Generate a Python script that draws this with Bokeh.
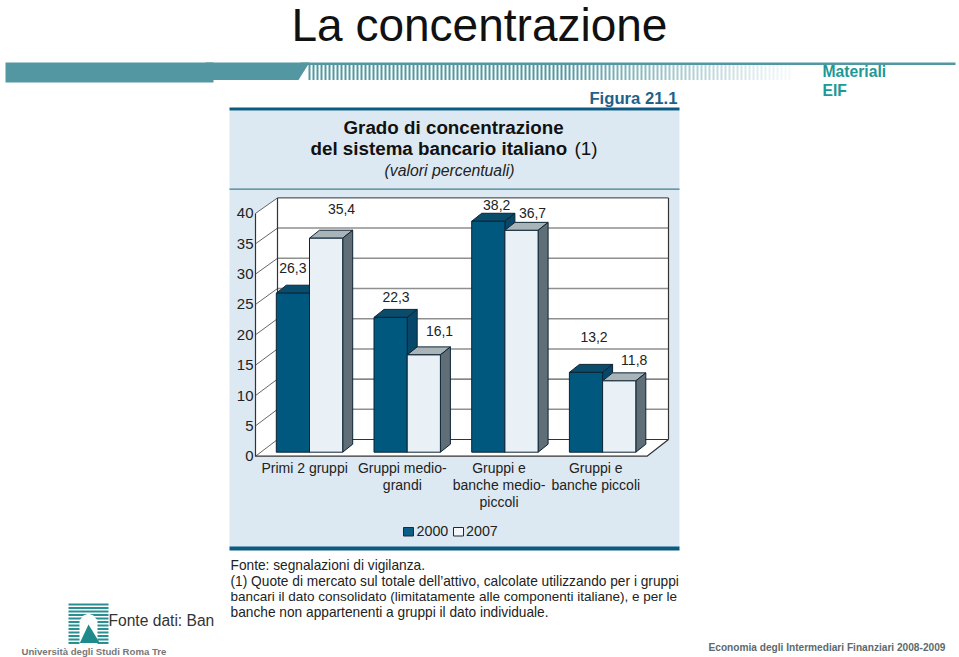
import numpy as np
from bokeh.plotting import figure
from bokeh.models import Range1d, LinearAxis, FixedTicker
from bokeh.core.properties import value
from bokeh.embed import file_html
from bokeh.resources import INLINE

# ---- data ----
categories = ["Primi 2 gruppi", "Gruppi medio-\ngrandi", "Gruppi e\nbanche medio-\npiccoli", "Gruppi e\nbanche piccoli"]
series_names = ["2000", "2007"]
values_2000 = [26.3, 22.3, 38.2, 13.2]
values_2007 = [35.4, 16.1, 36.7, 11.8]
y_ticks = [0, 5, 10, 15, 20, 25, 30, 35, 40]
title = "La concentrazione"
figure_label = "Figura 21.1"
side_label = ["Materiali", "EIF"]
chart_title = ["Grado di concentrazione", "del sistema bancario italiano"]
chart_subtitle = "(valori percentuali)"
notes = ["Fonte: segnalazioni di vigilanza.",
         "(1) Quote di mercato sul totale dell\u2019attivo, calcolate utilizzando per i gruppi",
         "bancari il dato consolidato (limitatamente alle componenti italiane), e per le",
         "banche non appartenenti a gruppi il dato individuale."]
# label offsets (pixels) from each bar's top-centre
off_2000 = [(0, -19.7), (5.4, -15), (8.4, -10.7), (8, -30)]
off_2007 = [(15.4, -23.7), (15.7, -18.4), (11, -11.8), (15, -15.4)]

FONT = "Liberation Sans"
W, H = 959, 657
TEAL = "#5297a1"
BLUE = "#0b5a82"
PANEL = "#dde9f2"
K = 0.38  # baseline correction of the text glyph, in em

GROUP_PX, ZERO_PX, SEP_PX, UNIT_PX = 97.7, 451.7, 309.0, 6.045
p = figure(width=W, height=H, output_backend="svg", toolbar_location=None,
           x_range=Range1d(0, W), y_range=Range1d(H, 0),
           min_border=0, min_border_left=0, min_border_right=0, min_border_top=0, min_border_bottom=0,
           margin=(0, 0, 0, 0), outline_line_color=None, background_fill_color="white",
           x_axis_type=None, y_axis_type=None)
p.xgrid.visible = False
p.ygrid.visible = False
p.extra_x_ranges["cat"] = Range1d(-SEP_PX / GROUP_PX, (W - SEP_PX) / GROUP_PX)
p.extra_y_ranges["val"] = Range1d((ZERO_PX - H) / UNIT_PX, ZERO_PX / UNIT_PX)
p.extra_y_ranges["front"] = Range1d((455.7 - H) / 6.07, 455.7 / 6.07)
p.extra_y_ranges["back"] = Range1d((439.0 - H) / 6.04, 439.0 / 6.04)


def txt(x, y, s, size, color="#222222", style="normal", align="left"):
    p.text(x=[x], y=[y - K * size], text=[s], text_font=value(FONT), text_font_size=f"{size}px",
           text_color=color, text_font_style=style, text_align=align, text_baseline="alphabetic")


# ---- header ----
txt(291, 42, title, 46, "#111111")
p.quad(left=[5], right=[213], top=[62], bottom=[82], fill_color=TEAL, line_color=None)
p.patch(x=[205, 309, 298, 205], y=[62, 62, 79.5, 79.5], fill_color=TEAL, line_color=None)
p.quad(left=[300], right=[955], top=[62], bottom=[64.5], fill_color=TEAL, line_color=None)
sx = np.arange(309, 792, 4.0)
sa = np.clip((800 - sx) / 240, 0.06, 1.0)
p.vbar(x=sx, bottom=64, top=79.5, width=2.0, fill_color=TEAL, fill_alpha=sa, line_color=None)
txt(822, 77, side_label[0], 15.7, "#1d9a95", "bold")
txt(822, 96, side_label[1], 15.7, "#1d9a95", "bold")

# ---- panel ----
p.quad(left=[229], right=[679], top=[110], bottom=[547], fill_color=PANEL, line_color=None)
p.quad(left=[229], right=[679], top=[107], bottom=[110], fill_color=BLUE, line_color=None)
p.quad(left=[229], right=[679], top=[546], bottom=[550], fill_color=BLUE, line_color=None)
p.quad(left=[229], right=[679], top=[188], bottom=[189.3], fill_color="#3f7f8e", line_color=None)
txt(677, 104, figure_label, 16.7, "#1f6288", "bold", "right")
txt(343, 134, chart_title[0], 18.8, "#111111", "bold")
txt(310, 155, chart_title[1], 18.8, "#111111", "bold")
txt(574, 155, "(1)", 18.8, "#111111")
txt(384, 176, chart_subtitle, 15.8, "#222222", "italic")

# ---- 3D box ----
p.patch(x=[255, 277, 668, 668, 646.5, 255], y=[213, 197.4, 197.4, 439, 455.7, 455.7],
        fill_color="white", line_color=None)
grid_dark = [0, 10]
p.segment(x0=[277] * len(y_ticks), x1=[668] * len(y_ticks), y0=y_ticks, y1=y_ticks, y_range_name="back",
          line_color=["#333333" if t in grid_dark or t == 40 else "#8f8f8f" for t in y_ticks],
          line_width=[1 if t in grid_dark or t == 40 else 1.5 for t in y_ticks])
y_front = [455.7 - t * 6.07 for t in y_ticks]
y_back = [439.0 - t * 6.04 for t in y_ticks]
p.segment(x0=[255] * len(y_ticks), x1=[277] * len(y_ticks), y0=y_front, y1=y_back,
          line_color="#666666", line_width=1)
p.line(x=[277, 277], y=[197.4, 439], line_color="#333333", line_width=1.2)
p.line(x=[668, 668], y=[197.4, 439], line_color="#333333", line_width=1.2)
p.line(x=[255, 646.5, 668], y=[455.7, 455.7, 439], line_color="#333333", line_width=1.2)

# ---- 3D bars ----
BAR = 33.2 / GROUP_PX
DX, DY = 10 / GROUP_PX, 8 / UNIT_PX
EDGE = "#0d2433"
styles = [("#00587f", "#0a4c6b", "#07476a"), ("#e9f1f7", "#a9b4b9", "#5f6e77")]
for g in range(len(categories)):
    for s, vals in enumerate((values_2000, values_2007)):
        v = vals[g]
        x0 = g + (s - 1) * BAR
        x1 = x0 + BAR
        front, top, side = styles[s]
        kw = dict(x_range_name="cat", y_range_name="val", line_color=EDGE, line_width=1)
        p.patch(x=[x0, x1, x1 + DX, x0 + DX], y=[v, v, v + DY, v + DY], fill_color=top, **kw)
        p.patch(x=[x1, x1 + DX, x1 + DX, x1], y=[v, v + DY, DY, 0], fill_color=side, **kw)
        p.vbar(x=[x0 + BAR / 2], top=[v], bottom=[0], width=BAR, fill_color=front, **kw)

# value labels
for s, (vals, offs) in enumerate(((values_2000, off_2000), (values_2007, off_2007))):
    p.text(x=[g + (s - 0.5) * BAR for g in range(4)], y=vals,
           text=[f"{v:.1f}".replace(".", ",") for v in vals],
           x_offset=[o[0] for o in offs], y_offset=[o[1] - K * 14 for o in offs],
           x_range_name="cat", y_range_name="val",
           text_font=value(FONT), text_font_size="14px", text_color="#222222",
           text_align="center", text_baseline="alphabetic")

# y axis on the front edge of the side wall
axis = LinearAxis(y_range_name="front", fixed_location=255, ticker=FixedTicker(ticks=y_ticks),
                  bounds=(0, 40), major_tick_out=0, major_tick_in=0, minor_tick_out=0, minor_tick_in=0,
                  axis_line_color="#333333", axis_line_width=1.2, major_label_standoff=2,
                  major_label_text_font=FONT, major_label_text_font_size="15px",
                  major_label_text_color="#222222")
p.add_layout(axis, "left")

# category labels
cat_centers = [-0.05, -0.05, -0.06, -0.07]
for g, c in enumerate(categories):
    for i, line in enumerate(c.split("\n")):
        p.text(x=[g + cat_centers[g]], y=[472.7 - K * 14 + 17.2 * i], text=[line], x_range_name="cat",
               text_font=value(FONT), text_font_size="14px", text_color="#222222",
               text_align="center", text_baseline="alphabetic")

# legend
p.quad(left=[403, 453], right=[413, 463], top=[527, 527], bottom=[535.5, 535.5],
       fill_color=["#0b5f87", "#f3f7fa"], line_color="#1a2a35", line_width=1)
txt(416, 536, series_names[0], 14.3)
txt(465.5, 536, series_names[1], 14.3)

# notes
for y, line, size in zip([570, 586, 601, 617], notes, [13.72, 13.72, 13.5, 13.72]):
    txt(230, y, line, size, "#222222")

# ---- footer / logo ----
LOGO = "#2a8f92"
ly = np.arange(604, 644, 3.5)
p.segment(x0=[68] * len(ly), x1=[108] * len(ly), y0=ly, y1=ly, line_color=LOGO, line_width=2)
p.patch(x=[79, 79, 83, 88, 93, 97, 97], y=[645, 620, 615, 613, 615, 620, 645], fill_color="white", line_color=None)
p.patch(x=[88, 79.3, 99.3], y=[624, 642.5, 642.5], fill_color="#1e8a8c", line_color=None)
txt(108, 626, "Fonte dati: Ban", 15.6, "#333333")
txt(21, 655, "Universit\u00e0 degli Studi Roma Tre", 9.65, "#777777", "bold")
txt(708, 651, "Economia degli  Intermediari Finanziari 2008-2009", 10.15, "#5c6a6e", "bold")

open("out.html", "w").write(file_html(p, INLINE))
